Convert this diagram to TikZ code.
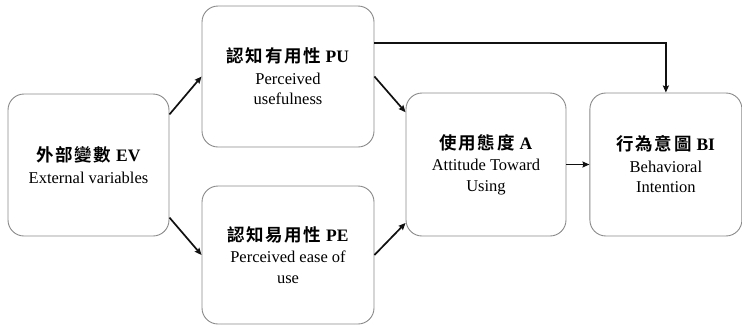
\documentclass[tikz,border=0pt]{standalone}
\usepackage{fontspec}
\setmainfont{Liberation Serif}
\newfontfamily\cjk{Noto Sans CJK TC}[BoldFont={Noto Sans CJK TC Bold}, LetterSpace=9]
\usepackage{tikz}
\usetikzlibrary{arrows.meta,positioning,calc}
\definecolor{ink}{HTML}{111111}
\definecolor{rule}{HTML}{8A8A8A}
\tikzset{
  box/.style={rectangle, rounded corners=16pt, draw=rule, line width=0.9pt, fill=white,
              align=center, inner sep=2pt,
              font=\fontsize{16.5}{20.5}\selectfont},
  fl/.style={-{Stealth[length=7pt,width=6pt,inset=1pt]}, draw=ink, line width=1.7pt},
}
\newcommand{\zh}[2]{{\cjk\bfseries\fontsize{17.5}{22}\selectfont #1}\hspace{5pt}{\bfseries\fontsize{17.5}{22}\selectfont #2}\\[1pt]}

\begin{document}
\begin{tikzpicture}[x=1pt, y=-1pt]
  \useasboundingbox (0,0) rectangle (742,325);
  % left and middle columns
  \node[box, minimum width=161pt, minimum height=142pt] (ev) at (88.5,165)
       {\zh{外部變數}{EV}External variables};
  \node[box, minimum width=172pt, minimum height=141pt] (pu) at (288,76.5)
       {\zh{認知有用性}{PU}Perceived\\usefulness};
  \node[box, minimum width=172pt, minimum height=138pt] (pe) at (288,255)
       {\zh{認知易用性}{PE}Perceived ease of\\use};
  % right column
  \node[box, minimum width=160pt, minimum height=143pt] (att) at (486,164.5)
       {\zh{使用態度}{A}Attitude Toward\\Using};
  \node[box, minimum width=152pt, minimum height=143pt, right=23pt of att] (bi)
       {\zh{行為意圖}{BI}Behavioral\\Intention};

  \draw[fl] (ev.32) -- (pu.west);
  \draw[fl] (ev.-33) -- (pe.west);
  \draw[fl] (pu.east) -- (att.147);
  \draw[fl] (pe.east) -- (att.-144);
  \draw[fl] (att) -- (bi);
  \draw[fl] (pu.21) -| (bi.north);
\end{tikzpicture}
\end{document}
